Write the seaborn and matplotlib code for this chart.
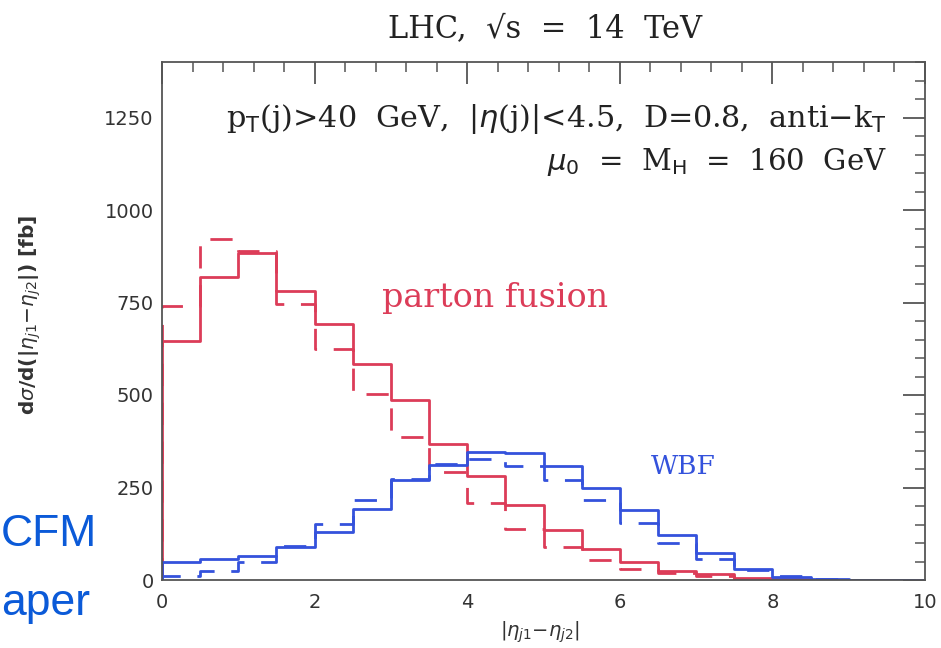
import numpy as np
import pandas as pd
import matplotlib
matplotlib.use("Agg")
import matplotlib.pyplot as plt
from matplotlib.ticker import MultipleLocator
import seaborn as sns

# ---- data ----
bin_edges = list(np.arange(0, 10.5, 0.5))
parton_nlo = [645, 820, 884, 780, 693, 585, 486, 367, 280, 204, 134, 85, 49, 25, 15, 6, 2, 1, 0, 0]
parton_lo = [740, 922, 890, 745, 623, 504, 387, 291, 208, 139, 90, 54, 31, 18, 10, 4, 1, 0, 0, 0]
wbf_nlo = [48, 56, 65, 90, 129, 193, 271, 311, 345, 342, 309, 249, 188, 121, 72, 31, 7, 2, 0, 0]
wbf_lo = [12, 24, 50, 93, 152, 215, 274, 314, 327, 309, 269, 215, 154, 99, 56, 28, 10, 3, 1, 0]
x_ticks = [0, 2, 4, 6, 8, 10]
y_ticks = [0, 250, 500, 750, 1000, 1250]

RED = "#dc3c58"
BLUE = "#3452dc"

sns.set_style("white")
plt.rcParams["font.family"] = ["DejaVu Sans"]

fig = plt.figure(figsize=(9.41, 6.48), dpi=100)
ax = fig.add_axes([162 / 941, 1 - 580 / 648, (925 - 162) / 941, (580 - 62) / 648])

series = [
    (parton_nlo, RED, "-"),
    (parton_lo, RED, (0, (8, 6))),
    (wbf_nlo, BLUE, "-"),
    (wbf_lo, BLUE, (0, (8, 6))),
]
for vals, col, ls in series:
    xs = [bin_edges[0]] + bin_edges
    ys = [0] + list(vals) + [vals[-1]]
    df = pd.DataFrame({"x": xs, "y": ys})
    sns.lineplot(data=df, x="x", y="y", sort=False, estimator=None,
                 drawstyle="steps-post", color=col, linestyle=ls, linewidth=2.0, ax=ax)

ax.set_xlim(0, 10)
ax.set_ylim(0, 1400)
ax.set_xticks(x_ticks)
ax.set_yticks(y_ticks)
ax.xaxis.set_minor_locator(MultipleLocator(0.4))
ax.yaxis.set_minor_locator(MultipleLocator(50))
ax.tick_params(which="major", direction="in", length=16, width=1.3, color="#555555",
               top=True, right=True, labelsize=14, labelcolor="#333333")
ax.tick_params(which="minor", direction="in", length=7, width=1.1, color="#555555",
               top=True, right=True)
ax.tick_params(axis="x", which="major", pad=9)
ax.tick_params(axis="y", which="major", pad=6)
for sp in ax.spines.values():
    sp.set_color("#555555")
    sp.set_linewidth(1.3)
ax.set_xlabel("")
ax.set_ylabel("")

serif = ["DejaVu Serif"]
fig.text(545 / 941, 1 - 30 / 648, "LHC,  \u221as  =  14  TeV", ha="center", va="center",
         fontsize=22, family=serif, color="#222222")
ax.text(9.5, 1245, r"p$_{\rm T}$(j)>40  GeV,  |$\eta$(j)|<4.5,  D=0.8,  anti$-$k$_{\rm T}$",
        ha="right", va="center", fontsize=21.8, family=serif, color="#222222")
ax.text(9.5, 1129, r"$\mu_0$  =  M$_{\rm H}$  =  160  GeV", ha="right", va="center",
        fontsize=21, family=serif, color="#222222")
ax.text(4.36, 761, "parton fusion", ha="center", va="center", fontsize=24,
        family=serif, color=RED)
ax.text(6.83, 306, "WBF", ha="center", va="center", fontsize=19, family=serif, color=BLUE)

fig.text(540 / 941, 1 - 632 / 648, r"|$\eta_{j1}$$-$$\eta_{j2}$|", ha="center", va="center",
         fontsize=14, color="#333333")
fig.text(30 / 941, 1 - 315 / 648, r"d$\sigma$/d(|$\eta_{j1}$$-$$\eta_{j2}$|) [fb]", ha="center",
         va="center", rotation=90, fontsize=14.5, color="#333333", fontweight="bold")

# slide fragments at the left
fig.text(0.001, 1 - 534 / 648, "CFM", ha="left", va="center", fontsize=32,
         color="#0b5ad8", family=["Liberation Sans"])
fig.text(0.001, 1 - 604 / 648, "aper", ha="left", va="center", fontsize=32,
         color="#0b5ad8", family=["Liberation Sans"])

fig.savefig("out.png", dpi=100)
